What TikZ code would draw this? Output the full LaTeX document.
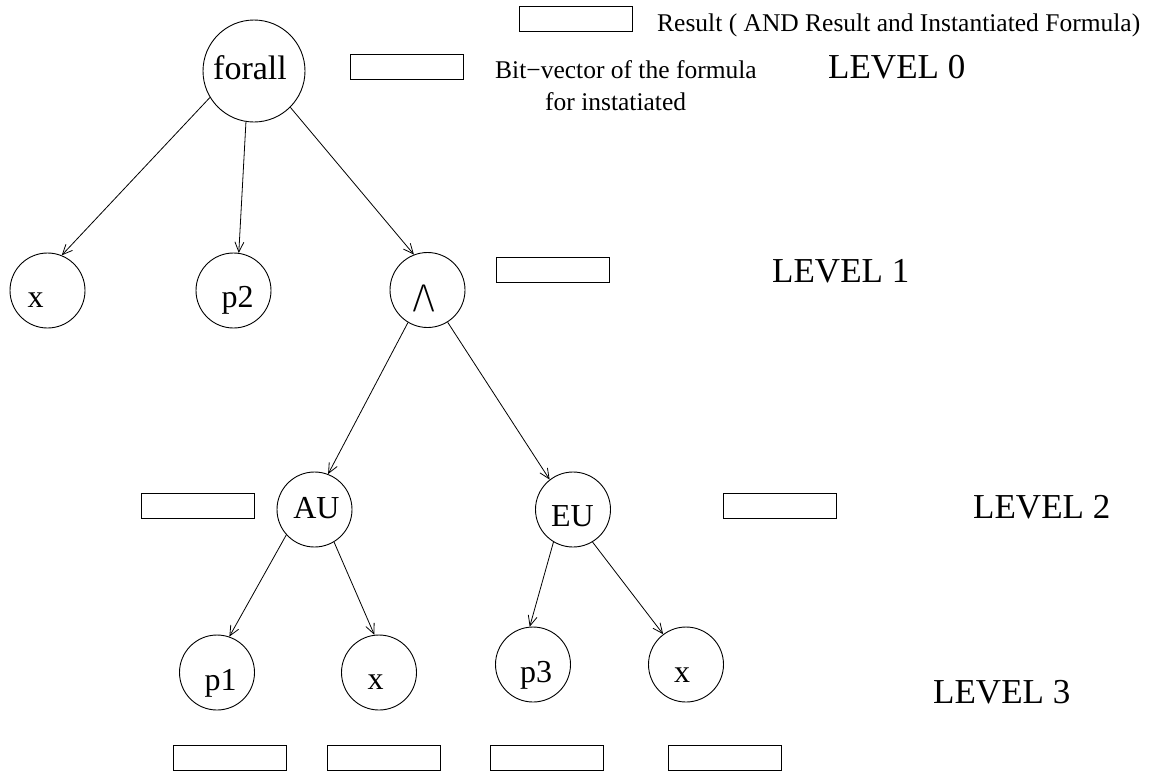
\documentclass[tikz,border=0pt]{standalone}
\usepackage{fontspec}
\setmainfont{Liberation Serif}
\usetikzlibrary{arrows.meta}
\begin{document}
\begin{tikzpicture}[x=1pt,y=-1pt,
  vtx/.style={draw, circle, line width=0.9pt, inner sep=0pt, minimum size=75pt},
  bigvtx/.style={vtx, minimum size=102pt},
  vlabel/.style={anchor=base, inner sep=0pt, font=\fontsize{32}{38}\selectfont},
  levellabel/.style={anchor=base west, inner sep=0pt, font=\fontsize{35}{42}\selectfont},
  note/.style={anchor=base west, inner sep=0pt, font=\fontsize{25.5}{30}\selectfont},
  bitbox/.style={draw, line width=1pt, minimum width=113pt, minimum height=25pt, inner sep=0pt, anchor=north west},
  edge/.style={line width=0.8pt, -{Straight Barb[length=10pt,width=9pt]}}
]
\useasboundingbox (0,0) rectangle (1155,774);

% formula tree vertices
\node[bigvtx] (fa) at (254,71) {};
\node[vtx] (x1) at (47.5,290.5) {};
\node[vtx] (p2) at (233.5,290.5) {};
\node[vtx] (and) at (427.5,290) {};
\node[vtx] (au) at (314.5,509.5) {};
\node[vtx] (eu) at (573,509.5) {};
\node[vtx] (p1) at (217,672.5) {};
\node[vtx] (x2) at (379,672.5) {};
\node[vtx] (p3) at (533,664.5) {};
\node[vtx] (x3) at (686,664.5) {};

% vertex labels
\node[vlabel, font=\fontsize{34}{40}\selectfont] (tfa) at (250,79) {forall};
\node[vlabel] (tx1) at (35.5,307) {x};
\node[vlabel] (tp2) at (237.5,307) {p2};
\node[vlabel, font=\fontsize{40}{46}\selectfont] (tand) at (424,311) {/\kern-1.5pt\textbackslash};
\node[vlabel] (tau) at (316.5,518) {AU};
\node[vlabel] (teu) at (572.5,526) {EU};
\node[vlabel] (tp1) at (220.5,690) {p1};
\node[vlabel] (tx2) at (375.5,689) {x};
\node[vlabel] (tp3) at (536,682) {p3};
\node[vlabel] (tx3) at (682,682) {x};

% edges
\draw[edge] (fa.211) -- (x1.68);
\draw[edge] (fa.261) -- (p2.82);
\draw[edge] (fa.315) -- (and.111);
\draw[edge] (and.239) -- (au.69);
\draw[edge] (and.302) -- (eu.128);
\draw[edge] (au.222) -- (p1.71);
\draw[edge] (au.301) -- (x2.97);
\draw[edge] (eu.239) -- (p3.95);
\draw[edge] (eu.301) -- (x3.127);

% bit-vector boxes
\node[bitbox] (resbox) at (519,6) {};
\node[bitbox] (fabox) at (350,54) {};
\node[bitbox] (andbox) at (496,257) {};
\node[bitbox] (aubox) at (141,493) {};
\node[bitbox] (eubox) at (723,493) {};
\node[bitbox] (p1box) at (173,745) {};
\node[bitbox] (x2box) at (327,745) {};
\node[bitbox] (p3box) at (490,745) {};
\node[bitbox] (x3box) at (668,745) {};

% legend
\node[note] (restext) at (657,31) {Result ( AND Result and Instantiated Formula)};
\node[note] (bvtext) at (495,78) {Bit−vector of the formula};
\node[note] (bvtext2) at (545,110) {for instatiated};

% level captions
\node[levellabel] (lv0) at (828,78) {LEVEL 0};
\node[levellabel] (lv1) at (772,282) {LEVEL 1};
\node[levellabel] (lv2) at (973,518) {LEVEL 2};
\node[levellabel] (lv3) at (933,703) {LEVEL 3};
\end{tikzpicture}
\end{document}
